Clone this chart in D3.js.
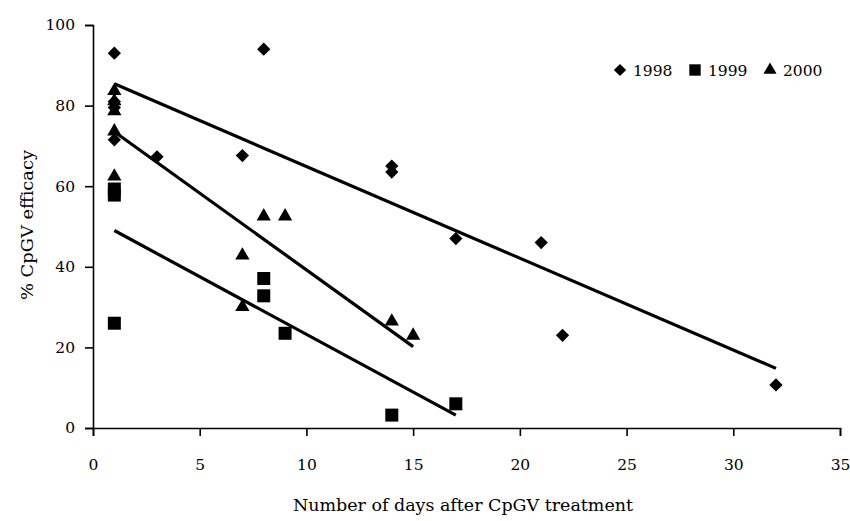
<!DOCTYPE html>
<html>
<head>
<meta charset="utf-8">
<script src="https://cdn.jsdelivr.net/npm/d3@7"></script>
<style>
  body { margin: 0; background: #fff; }
  text { font-family: "DejaVu Serif", "Liberation Serif", serif; fill: #000; }
</style>
</head>
<body>
<svg id="chart" width="850" height="521"></svg>
<script>
// values
const days1998 = [1, 1, 1, 1, 3, 7, 8, 14, 14, 17, 21, 22, 32];
const eff1998  = [93, 81, 79.5, 71.5, 67.3, 67.6, 94, 65, 63.5, 47, 46, 23, 10.7];
const days1999 = [1, 1, 1, 8, 8, 9, 14, 17];
const eff1999  = [59.3, 57.8, 26, 37.1, 32.8, 23.5, 3.2, 6];
const days2000 = [1, 1, 1, 1, 1, 7, 7, 8, 9, 14, 15];
const eff2000  = [84, 81.5, 79, 74, 62.8, 43.2, 30.4, 52.9, 52.9, 26.8, 23.3];

// linear trend lines as drawn in the source (start / end)
const trend1998 = [[1, 85.4], [32, 14.8]];
const trend1999 = [[1, 49.0], [17, 3.2]];
const trend2000 = [[1, 73.5], [15, 20.2]];

const years = ["1998", "1999", "2000"];
const xTicks = [0, 5, 10, 15, 20, 25, 30, 35];
const yTicks = [0, 20, 40, 60, 80, 100];

const svg = d3.select("#chart");

const x = d3.scaleLinear().domain([0, 35]).range([93, 840]);
const y = d3.scaleLinear().domain([0, 100]).range([428, 25]);

// marker shapes: diamond (rotated square), square, triangle
const shapes = {
    "1998": d3.symbol().type(d3.symbolSquare).size(88),
    "1999": d3.symbol().type(d3.symbolSquare).size(169),
    "2000": d3.symbol().type(d3.symbolTriangle).size(88)
};
const rot = { "1998": 45, "1999": 0, "2000": 0 };

// axes
const xAxis = svg.append("g")
    .attr("transform", `translate(0,${y(0)})`)
    .call(d3.axisBottom(x).tickValues(xTicks).tickSizeOuter(0).tickSize(8).tickPadding(23));
const yAxis = svg.append("g")
    .attr("transform", `translate(${x(0)},0)`)
    .call(d3.axisLeft(y).tickValues(yTicks).tickSizeOuter(0).tickSize(8).tickPadding(10));

[xAxis, yAxis].forEach(a => {
    a.select(".domain").attr("stroke", "#000").attr("stroke-width", 1.6);
    a.selectAll(".tick line").attr("stroke", "#000").attr("stroke-width", 1.6);
    a.selectAll(".tick text").style("font-size", "15.5px").attr("fill", "#000");
});

// points
const series = [
    { year: "1998", xs: days1998, ys: eff1998 },
    { year: "1999", xs: days1999, ys: eff1999 },
    { year: "2000", xs: days2000, ys: eff2000 }
];
series.forEach(s => {
    svg.append("g").selectAll("path")
        .data(s.xs.map((d, i) => [d, s.ys[i]]))
        .enter().append("path")
        .attr("d", shapes[s.year]())
        .attr("transform", d => {
            const dy = s.year === "2000" ? 1.5 : 0;
            return `translate(${x(d[0])},${y(d[1]) + dy}) rotate(${rot[s.year]})`;
        })
        .attr("fill", "#000");
});

// trend lines
const line = d3.line().x(d => x(d[0])).y(d => y(d[1]));
[trend1998, trend1999, trend2000].forEach(t => {
    svg.append("path")
        .attr("d", line(t))
        .attr("fill", "none")
        .attr("stroke", "#000")
        .attr("stroke-width", 3.2);
});

// axis titles
svg.append("text")
    .attr("x", 463).attr("y", 511)
    .attr("text-anchor", "middle")
    .attr("textLength", 340).attr("lengthAdjust", "spacingAndGlyphs")
    .style("font-size", "16px")
    .text("Number of days after CpGV treatment");

svg.append("text")
    .attr("transform", "translate(33,225) rotate(-90)")
    .attr("text-anchor", "middle")
    .attr("textLength", 150).attr("lengthAdjust", "spacingAndGlyphs")
    .style("font-size", "16px")
    .text("% CpGV efficacy");

// legend
const legendX = [620, 695, 770];
const legend = svg.selectAll(".legend")
    .data(years)
    .enter().append("g")
    .attr("class", "legend")
    .attr("transform", (d, i) => `translate(${legendX[i]},70)`);

legend.append("path")
    .attr("d", d => d3.symbol().type(d === "2000" ? d3.symbolTriangle : d3.symbolSquare)
        .size(d === "1999" ? 130 : 75)())
    .attr("transform", d => `rotate(${rot[d]})`)
    .attr("fill", "#000");

legend.append("text")
    .attr("x", 13)
    .attr("y", 6)
    .style("font-size", "15.5px")
    .text(d => d);
</script>
</body>
</html>
